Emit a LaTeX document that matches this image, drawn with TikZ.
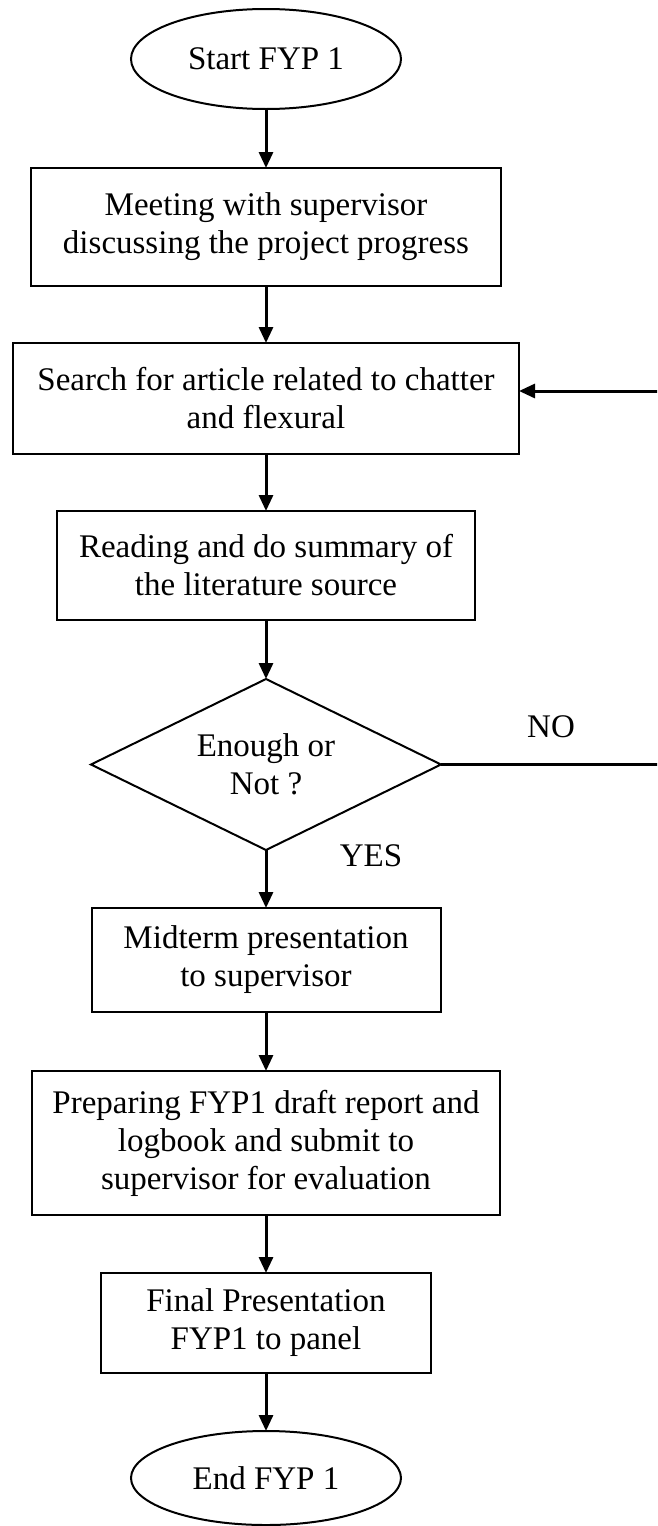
\documentclass[tikz,border=0pt]{standalone}
\usepackage{fontspec}
\setmainfont{Liberation Serif}
\usepackage{tikz}
\usetikzlibrary{positioning, shapes, arrows.meta}
\definecolor{fypInk}{HTML}{000000}
\tikzset{
    fypBoxBase/.style={
        rectangle,
        draw=fypInk,
        line width=2pt,
        inner sep=0pt,
        outer sep=0pt,
        align=center,
        font=\fontsize{33}{38}\selectfont
    },
    % Flow shapes
    terminal/.style={fypBoxBase, ellipse, minimum width=270pt},
    process/.style={fypBoxBase},
    decision/.style={fypBoxBase, diamond, aspect=2.05, minimum width=350pt, minimum height=171pt},
    % Arrows
    fypArrowBase/.style={-{Triangle[width=14pt, length=16pt]}, line width=3pt, draw=fypInk},
    fypLabel/.style={
        font=\fontsize{33}{38}\selectfont,
        text=fypInk,
        inner sep=0pt
    }
}

\begin{document}
\begin{tikzpicture}[
    x=1pt, y=1pt,
    arr/.style={fypArrowBase}
]
\useasboundingbox (0,0) rectangle (657,-1526);
\clip (0,0) rectangle (657,-1526);

\node[terminal, minimum height=100pt] (start) at (266,-59) {Start FYP 1};
\node[process, minimum width=470pt, minimum height=118pt, below=59pt of start] (meet) {Meeting with supervisor\\discussing the project progress};
\node[process, minimum width=506pt, minimum height=111pt, below=57pt of meet] (search) {Search for article related to chatter\\and flexural};
\node[process, minimum width=418pt, minimum height=109pt, below=57pt of search] (read) {Reading and do summary of\\the literature source};
\node[decision, below=59pt of read] (enough) {Enough or\\Not ?};
\node[process, minimum width=349pt, minimum height=104pt, below=58pt of enough] (midterm) {Midterm presentation\\to supervisor};
\node[process, minimum width=468pt, minimum height=144pt, below=59pt of midterm] (draft) {Preparing FYP1 draft report and\\logbook and submit to\\supervisor for evaluation};
\node[process, minimum width=330pt, minimum height=100pt, below=58pt of draft] (final) {Final Presentation\\FYP1 to panel};
\node[terminal, minimum height=94pt, below=58pt of final] (finish) {End FYP 1};

\draw[arr] (start) -- (meet);
\draw[arr] (meet) -- (search);
\draw[arr] (search) -- (read);
\draw[arr] (read) -- (enough);
\draw[arr] (enough) -- (midterm);
\draw[arr] (midterm) -- (draft);
\draw[arr] (draft) -- (final);
\draw[arr] (final) -- (finish);

% back loop, runs off the right edge
\coordinate (backIn) at (665,-391);
\draw[arr] (enough.east) -- (enough.east -| backIn) -- (backIn) -- (search.east |- backIn);

\node[fypLabel] (no) at (551,-727) {NO};
\node[fypLabel] (yes) at (371,-856) {YES};
\end{tikzpicture}
\end{document}
